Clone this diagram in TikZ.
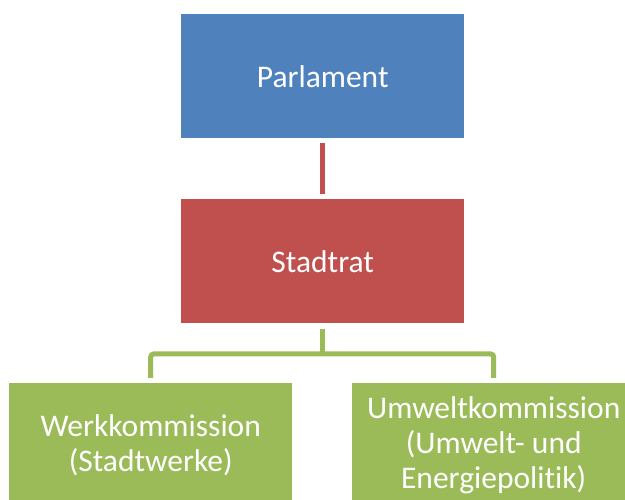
\documentclass[tikz,border=0pt]{standalone}
\usepackage{fontspec}
\setmainfont[RawFeature={-liga;-calt;-dlig}]{Carlito}
\definecolor{pblue}{HTML}{4F81BD}
\definecolor{pred}{HTML}{C0504D}
\definecolor{pgreen}{HTML}{9BBB59}
\begin{document}
\begin{tikzpicture}[x=1pt,y=-1pt,
  orgbox/.style={minimum width=283pt,minimum height=124pt,inner sep=0pt,text=white,
    font=\fontsize{31.5}{35}\selectfont,align=center,anchor=north west},
  redline/.style={draw=pred,line width=5pt},
  greenline/.style={draw=pgreen,line width=5pt,rounded corners=3pt}]
\useasboundingbox (0,0) rectangle (625,500);
\clip (0,0) rectangle (625,500);
\node[orgbox,fill=pblue] (p) at (181,14) {Parlament};
\node[orgbox,fill=pred] (s) at (181,199) {Stadtrat};
\node[orgbox,fill=pgreen] (w) at (9,383) {Werkkommission\\(Stadtwerke)};
\node[orgbox,fill=pgreen] (u) at (352,383) {Umweltkommission\\(Umwelt- und\\Energiepolitik)};
\coordinate (j) at (322.5,354);
\draw[redline] ([yshift=-5pt]p.south) -- ([yshift=5pt]s.north);
\draw[greenline] ([yshift=-6pt]s.south) -- (s.south |- j);
\draw[greenline] ([yshift=5pt]w.north) -- (w.north |- j) -- (u.north |- j) -- ([yshift=5pt]u.north);
\end{tikzpicture}
\end{document}
